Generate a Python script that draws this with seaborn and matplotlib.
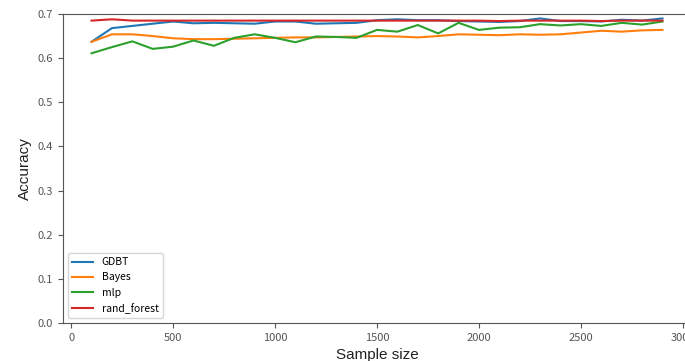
import pandas as pd
import numpy as np
import matplotlib.pyplot as plt
import seaborn as sns

sample_size = list(range(100, 3000, 100))

gdbt = [0.637, 0.668, 0.673, 0.678, 0.683, 0.679, 0.680, 0.679, 0.678, 0.683,
        0.683, 0.678, 0.679, 0.680, 0.686, 0.688, 0.686, 0.686, 0.684, 0.683,
        0.682, 0.684, 0.690, 0.684, 0.684, 0.683, 0.687, 0.685, 0.690]
bayes = [0.637, 0.654, 0.654, 0.650, 0.645, 0.643, 0.643, 0.644, 0.645, 0.646,
         0.647, 0.647, 0.648, 0.649, 0.650, 0.649, 0.647, 0.650, 0.654, 0.653,
         0.652, 0.654, 0.653, 0.654, 0.658, 0.662, 0.660, 0.663, 0.664]
mlp = [0.611, 0.625, 0.638, 0.621, 0.626, 0.640, 0.628, 0.646, 0.654, 0.646,
       0.636, 0.649, 0.648, 0.646, 0.664, 0.660, 0.675, 0.656, 0.680, 0.664,
       0.669, 0.670, 0.677, 0.674, 0.677, 0.673, 0.680, 0.676, 0.683]
rand_forest = [0.685, 0.688, 0.685, 0.685, 0.685, 0.685, 0.685, 0.685, 0.685, 0.685,
               0.685, 0.685, 0.685, 0.685, 0.685, 0.685, 0.685, 0.685, 0.685, 0.685,
               0.684, 0.685, 0.685, 0.685, 0.685, 0.684, 0.685, 0.685, 0.685]

models = {"GDBT": gdbt, "Bayes": bayes, "mlp": mlp, "rand_forest": rand_forest}
df = pd.concat(
    [pd.DataFrame({"Sample size": sample_size, "Accuracy": v, "model": k})
     for k, v in models.items()],
    ignore_index=True,
)

cjk = ["Noto Sans CJK SC", "DejaVu Sans"]
sans = ["Liberation Sans", "DejaVu Sans"]

fig = plt.figure(figsize=(6.85, 3.61), dpi=100)
ax = fig.add_axes([63 / 685, 38 / 361, 628 / 685, 309 / 361])

sns.lineplot(data=df, x="Sample size", y="Accuracy", hue="model",
             palette="tab10", linewidth=1.5, ax=ax)

ax.set_xlim(-40, 3040)
ax.set_ylim(0, 0.7)
ax.set_xticks(np.arange(0, 3001, 500))
ax.set_yticks(np.arange(0, 0.71, 0.1))
ax.set_yticklabels([f"{t:.1f}" for t in np.arange(0, 0.71, 0.1)])

for lab in ax.get_xticklabels() + ax.get_yticklabels():
    lab.set_family(cjk)
    lab.set_fontsize(8)
    lab.set_color("#333333")

for s in ax.spines.values():
    s.set_color("#555555")
ax.tick_params(colors="#555555", length=3.5)

ax.set_xlabel("Sample size", family=sans, fontsize=11, color="#222222")
ax.set_ylabel("Accuracy", family=sans, fontsize=11, color="#222222")

leg = ax.legend(loc="lower left", prop={"family": cjk, "size": 7.5})
leg.set_title(None)

fig.savefig("out.png", dpi=100)
